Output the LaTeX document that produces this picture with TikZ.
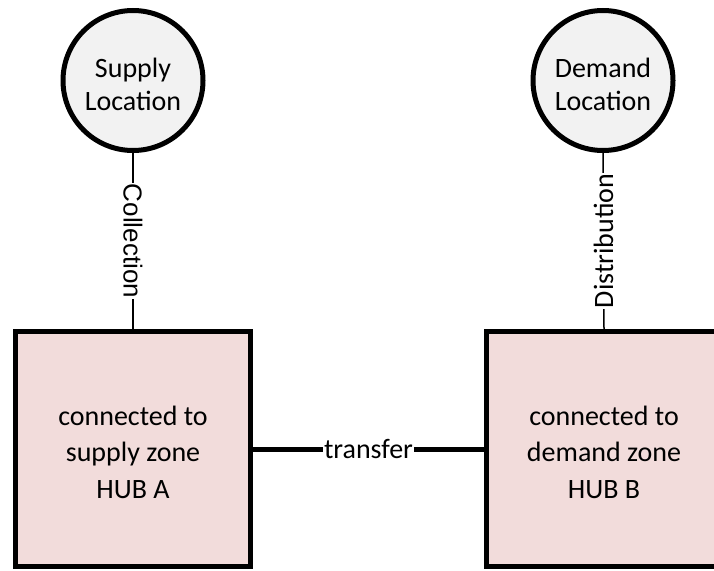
\documentclass[tikz,border=0pt]{standalone}
\usepackage{fontspec}
\setmainfont{Carlito}
\newfontfamily\arialfont{Liberation Sans}
\definecolor{hubfill}{HTML}{F2DCDB}
\definecolor{locfill}{HTML}{F2F2F2}
\tikzset{
  location/.style={circle, draw=black, line width=5pt, fill=locfill,
    minimum size=140pt, inner sep=0pt},
  hub/.style={rectangle, draw=black, line width=5pt, fill=hubfill,
    minimum width=235pt, minimum height=235pt, inner sep=0pt},
  loctext/.style={align=center, font=\fontsize{28}{33}\selectfont},
  hubtext/.style={align=center, font=\fontsize{28}{36.5}\selectfont},
  thinlink/.style={draw=black, line width=1.5pt},
  thicklink/.style={draw=black, line width=5pt},
  linklabel/.style={fill=white, inner sep=1pt, font=\fontsize{28}{33}\selectfont}
}
\begin{document}
\begin{tikzpicture}[x=1pt, y=-1pt]
  \useasboundingbox (0,0) rectangle (714,570);
  \clip (0,0) rectangle (714,570);

  % supply and demand locations
  \node[location] (supply) at (133,80.5) {};
  \node[location] (demand) at (603,80.5) {};
  \node[loctext] (supplytext) at ([yshift=-4pt]supply.center) {Supply\\Location};
  \node[loctext] (demandtext) at ([yshift=-4pt]demand.center) {Demand\\Location};

  % hubs
  \node[hub] (hubA) at (133,449) {};
  \node[hub] (hubB) at (604,449) {};
  \node[hubtext] (hubAtext) at ([yshift=-3pt]hubA.center) {connected to\\supply zone\\HUB A};
  \node[hubtext] (hubBtext) at ([yshift=-3pt]hubB.center) {connected to\\demand zone\\HUB B};

  % collection and distribution legs
  \draw[thinlink] (supply.south) -- node[linklabel, rotate=-90,
    font=\arialfont\fontsize{26}{30}\selectfont] {Collection} (hubA.north);
  \draw[thinlink] (demand.south) -- node[linklabel, rotate=90] {Distribution} (hubB.north);

  % transfer between hubs
  \draw[thicklink] (hubA.east) -- node[linklabel] {transfer} (hubB.west);
\end{tikzpicture}
\end{document}
